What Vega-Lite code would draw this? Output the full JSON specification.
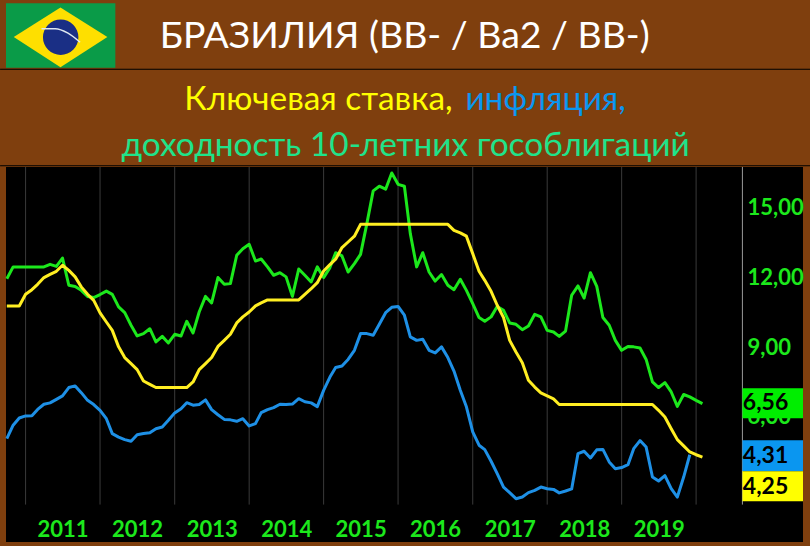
{"$schema":"https://vega.github.io/schema/vega-lite/v6.json","width":797,"height":375,"autosize":{"type":"none"},"padding":{"left":6,"top":167,"right":7,"bottom":4},"background":"#7f3f0e","view":{"fill":"#000000","stroke":null},
"config":{"font":"Lato"},
"datasets":{"series":[
{"d":"2010-10-01","r":10.77,"i":5.06,"y":11.94},{"d":"2010-11-01","r":10.77,"i":5.64,"y":12.45},{"d":"2010-12-01","r":10.77,"i":5.95,"y":12.45},{"d":"2011-01-01","r":11.27,"i":6.04,"y":12.45},{"d":"2011-02-01","r":11.47,"i":6.05,"y":12.45},{"d":"2011-03-01","r":11.70,"i":6.32,"y":12.45},{"d":"2011-04-01","r":11.99,"i":6.54,"y":12.45},{"d":"2011-05-01","r":12.13,"i":6.60,"y":12.56},{"d":"2011-06-01","r":12.26,"i":6.75,"y":12.47},{"d":"2011-07-01","r":12.52,"i":6.90,"y":12.83},{"d":"2011-08-01","r":12.30,"i":7.26,"y":11.66},{"d":"2011-09-01","r":12.02,"i":7.33,"y":11.61},
{"d":"2011-10-01","r":11.59,"i":7.04,"y":11.44},{"d":"2011-11-01","r":11.27,"i":6.71,"y":11.18},{"d":"2011-12-01","r":11.01,"i":6.53,"y":11.13},{"d":"2012-01-01","r":10.47,"i":6.28,"y":11.26},{"d":"2012-02-01","r":10.08,"i":5.92,"y":11.41},{"d":"2012-03-01","r":9.72,"i":5.28,"y":11.27},{"d":"2012-04-01","r":9.01,"i":5.13,"y":10.73},{"d":"2012-05-01","r":8.55,"i":5.02,"y":10.48},{"d":"2012-06-01","r":8.29,"i":4.95,"y":9.94},{"d":"2012-07-01","r":8.03,"i":5.23,"y":9.48},{"d":"2012-08-01","r":7.54,"i":5.28,"y":9.58},{"d":"2012-09-01","r":7.40,"i":5.32,"y":9.79},
{"d":"2012-10-01","r":7.26,"i":5.49,"y":9.22},{"d":"2012-11-01","r":7.26,"i":5.56,"y":9.46},{"d":"2012-12-01","r":7.26,"i":5.85,"y":9.18},{"d":"2013-01-01","r":7.26,"i":6.17,"y":9.55},{"d":"2013-02-01","r":7.26,"i":6.35,"y":9.48},{"d":"2013-03-01","r":7.26,"i":6.61,"y":10.11},{"d":"2013-04-01","r":7.50,"i":6.50,"y":9.61},{"d":"2013-05-01","r":8.03,"i":6.53,"y":10.51},{"d":"2013-06-01","r":8.29,"i":6.73,"y":11.18},{"d":"2013-07-01","r":8.55,"i":6.31,"y":10.90},{"d":"2013-08-01","r":9.03,"i":6.09,"y":11.99},{"d":"2013-09-01","r":9.29,"i":5.89,"y":11.70},
{"d":"2013-10-01","r":9.55,"i":5.87,"y":11.73},{"d":"2013-11-01","r":10.04,"i":5.81,"y":12.95},{"d":"2013-12-01","r":10.30,"i":5.92,"y":13.23},{"d":"2014-01-01","r":10.51,"i":5.61,"y":13.42},{"d":"2014-02-01","r":10.77,"i":5.71,"y":12.70},{"d":"2014-03-01","r":10.90,"i":6.18,"y":12.79},{"d":"2014-04-01","r":11.03,"i":6.31,"y":12.45},{"d":"2014-05-01","r":11.03,"i":6.40,"y":12.09},{"d":"2014-06-01","r":11.03,"i":6.54,"y":12.20},{"d":"2014-07-01","r":11.03,"i":6.53,"y":12.02},{"d":"2014-08-01","r":11.03,"i":6.55,"y":11.18},{"d":"2014-09-01","r":11.03,"i":6.78,"y":12.36},
{"d":"2014-10-01","r":11.27,"i":6.65,"y":12.09},{"d":"2014-11-01","r":11.51,"i":6.60,"y":11.80},{"d":"2014-12-01","r":11.77,"i":6.44,"y":12.45},{"d":"2015-01-01","r":12.27,"i":7.14,"y":11.99},{"d":"2015-02-01","r":12.55,"i":7.71,"y":12.42},{"d":"2015-03-01","r":12.78,"i":8.12,"y":13.06},{"d":"2015-04-01","r":13.28,"i":8.19,"y":12.92},{"d":"2015-05-01","r":13.52,"i":8.47,"y":12.23},{"d":"2015-06-01","r":13.77,"i":8.86,"y":12.59},{"d":"2015-07-01","r":14.28,"i":9.58,"y":12.99},{"d":"2015-08-01","r":14.28,"i":9.58,"y":14.31},{"d":"2015-09-01","r":14.28,"i":9.51,"y":15.72},
{"d":"2015-10-01","r":14.28,"i":9.98,"y":15.92},{"d":"2015-11-01","r":14.28,"i":10.48,"y":15.79},{"d":"2015-12-01","r":14.28,"i":10.71,"y":16.49},{"d":"2016-01-01","r":14.28,"i":10.75,"y":16.00},{"d":"2016-02-01","r":14.28,"i":10.37,"y":15.92},{"d":"2016-03-01","r":14.28,"i":9.44,"y":13.88},{"d":"2016-04-01","r":14.28,"i":9.29,"y":12.45},{"d":"2016-05-01","r":14.28,"i":9.34,"y":13.06},{"d":"2016-06-01","r":14.28,"i":8.86,"y":12.23},{"d":"2016-07-01","r":14.28,"i":8.75,"y":11.84},{"d":"2016-08-01","r":14.28,"i":9.01,"y":12.12},{"d":"2016-09-01","r":14.28,"i":8.55,"y":11.66},
{"d":"2016-10-01","r":14.02,"i":7.97,"y":11.47},{"d":"2016-11-01","r":13.91,"i":7.14,"y":11.92},{"d":"2016-12-01","r":13.77,"i":6.43,"y":11.44},{"d":"2017-01-01","r":13.02,"i":5.35,"y":10.87},{"d":"2017-02-01","r":12.26,"i":4.78,"y":10.27},{"d":"2017-03-01","r":11.87,"i":4.59,"y":10.11},{"d":"2017-04-01","r":11.40,"i":4.09,"y":10.30},{"d":"2017-05-01","r":10.80,"i":3.56,"y":10.75},{"d":"2017-06-01","r":10.27,"i":2.98,"y":10.58},{"d":"2017-07-01","r":9.29,"i":2.74,"y":10.04},{"d":"2017-08-01","r":8.79,"i":2.48,"y":9.98},{"d":"2017-09-01","r":8.33,"i":2.55,"y":9.75},
{"d":"2017-10-01","r":7.57,"i":2.74,"y":9.91},{"d":"2017-11-01","r":7.28,"i":2.84,"y":10.41},{"d":"2017-12-01","r":7.03,"i":2.98,"y":10.30},{"d":"2018-01-01","r":6.90,"i":2.91,"y":9.72},{"d":"2018-02-01","r":6.77,"i":2.88,"y":9.65},{"d":"2018-03-01","r":6.53,"i":2.73,"y":9.46},{"d":"2018-04-01","r":6.53,"i":2.81,"y":9.69},{"d":"2018-05-01","r":6.53,"i":2.90,"y":11.23},{"d":"2018-06-01","r":6.53,"i":4.42,"y":11.63},{"d":"2018-07-01","r":6.53,"i":4.52,"y":11.11},{"d":"2018-08-01","r":6.53,"i":4.23,"y":12.20},{"d":"2018-09-01","r":6.53,"i":4.58,"y":11.61},
{"d":"2018-10-01","r":6.53,"i":4.60,"y":10.27},{"d":"2018-11-01","r":6.53,"i":4.06,"y":9.94},{"d":"2018-12-01","r":6.53,"i":3.77,"y":9.29},{"d":"2019-01-01","r":6.53,"i":3.82,"y":8.86},{"d":"2019-02-01","r":6.53,"i":3.94,"y":9.03},{"d":"2019-03-01","r":6.53,"i":4.63,"y":9.01},{"d":"2019-04-01","r":6.53,"i":4.98,"y":8.96},{"d":"2019-05-01","r":6.53,"i":4.70,"y":8.47},{"d":"2019-06-01","r":6.53,"i":3.41,"y":7.50},{"d":"2019-07-01","r":6.28,"i":3.24,"y":7.26},{"d":"2019-08-01","r":5.99,"i":3.47,"y":7.47},{"d":"2019-09-01","r":5.49,"i":2.91,"y":7.07},
{"d":"2019-10-01","r":5.02,"i":2.55,"y":6.45},{"d":"2019-11-01","r":4.75,"i":3.41,"y":6.96},{"d":"2019-12-01","r":4.49,"i":4.37,"y":6.86},{"d":"2020-01-01","r":4.37,"y":6.71},{"d":"2020-02-01","r":4.27,"y":6.57}
],
"boxes":[{"s":"yield","t":"6,56","x0":"2020-08-15","x1":"2021-06-08","tx":"2020-08-17","y0":7.23,"y1":5.94,"ty":6.58},{"s":"cpi","t":"4,31","x0":"2020-08-15","x1":"2021-06-08","tx":"2020-08-17","y0":4.99,"y1":3.66,"ty":4.30},{"s":"rate","t":"4,25","x0":"2020-08-15","x1":"2021-06-08","tx":"2020-08-17","y0":3.66,"y1":2.37,"ty":2.97}],
"vgrid":[{"x":"2011-01-01"},{"x":"2012-01-01"},{"x":"2013-01-01"},{"x":"2014-01-01"},{"x":"2015-01-01"},{"x":"2016-01-01"},{"x":"2017-01-01"},{"x":"2018-01-01"},{"x":"2019-01-01"},{"x":"2020-01-01"}],
"hgrid":[{"v":3},{"v":6},{"v":9},{"v":12},{"v":15},{"v":2.226}],
"head":[{"t":"БРАЗИЛИЯ (BB- / Ba2 / BB-)","s":"white","x":"2012-10-20","y":21.85,"k":"big"},{"t":"Ключевая ставка,","s":"rate","x":"2013-02-17","y":19.18,"k":"small"},{"t":"инфляция,","s":"cpi","x":"2016-11-26","y":19.18,"k":"small"},{"t":"доходность 10-летних гособлигаций","s":"sub","x":"2012-04-15","y":17.21,"k":"small"}]},
"layer":[
{"data":{"name":"vgrid"},"mark":{"type":"rule","color":"#3a3a3a","strokeWidth":1},"encoding":{"x":{"field":"x","type":"temporal","scale":{"domain":["2010-09-27","2021-06-08"]},"axis":{"orient":"bottom","offset":-37.4,"title":null,"grid":false,"domain":false,"ticks":false,"tickCount":"year","labelOffset":37,"labelPadding":25,"labelBaseline":"middle","labelFontSize":22,"labelFontWeight":"bold","labelFont":"Lato","labelColor":"#1ce81c","labelFlush":false,"labelBound":false,"labelOverlap":false,"labelExpr":"year(datum.value) < 2020 ? timeFormat(datum.value,'%Y') : ''"}},"y":{"datum":16.746,"type":"quantitative","scale":{"domain":[0.617,16.746],"nice":false,"zero":false},"axis":{"orient":"right","offset":-60,"title":null,"grid":false,"domain":false,"ticks":false,"values":[3,6,9,12,15],"labelPadding":4,"labelFontSize":22,"labelFontWeight":"bold","labelFont":"Lato","labelColor":"#1ce81c","labelOverlap":false,"labelBound":false,"labelExpr":"replace(format(datum.value,'.2f'),'.',',')"}},"y2":{"datum":2.226}}},
{"data":{"name":"hgrid"},"mark":{"type":"rule","color":"#3a3a3a","strokeWidth":1},"encoding":{"y":{"field":"v","type":"quantitative"},"x":{"datum":"2010-09-27","type":"temporal"},"x2":{"datum":"2020-08-15"}}},
{"data":{"values":[{"a":"2020-08-15"}]},"mark":{"type":"rule","color":"#999999","strokeWidth":1},"encoding":{"x":{"field":"a","type":"temporal"},"y":{"datum":16.746,"type":"quantitative"},"y2":{"datum":2.226}}},
{"data":{"name":"series"},"mark":{"type":"line","color":"#1ce81c","strokeWidth":3,"strokeJoin":"round"},"encoding":{"x":{"field":"d","type":"temporal"},"y":{"field":"y","type":"quantitative"}}},
{"data":{"name":"series"},"transform":[{"filter":"isValid(datum.i)"}],"mark":{"type":"line","color":"#1e90e6","strokeWidth":3,"strokeJoin":"round"},"encoding":{"x":{"field":"d","type":"temporal"},"y":{"field":"i","type":"quantitative"}}},
{"data":{"name":"series"},"mark":{"type":"line","color":"#ffee22","strokeWidth":3,"strokeJoin":"round"},"encoding":{"x":{"field":"d","type":"temporal"},"y":{"field":"r","type":"quantitative"}}},
{"data":{"name":"boxes"},"mark":{"type":"rect"},"encoding":{"x":{"field":"x0","type":"temporal"},"x2":{"field":"x1"},"y":{"field":"y0","type":"quantitative"},"y2":{"field":"y1"},"color":{"field":"s","type":"nominal","legend":null,"scale":{"domain":["yield","cpi","rate","white","sub"],"range":["#00ee00","#0a96f0","#ffff00","#ffffff","#1fe38a"]}}}},
{"data":{"name":"boxes"},"mark":{"type":"text","align":"left","baseline":"middle","font":"Lato","fontSize":23,"fontWeight":"bold","color":"#000000"},"encoding":{"x":{"field":"tx","type":"temporal"},"y":{"field":"ty","type":"quantitative"},"text":{"field":"t"}}},
{"data":{"values":[{"a":"2010-08-29","b":"2021-07-14","v":20.95},{"a":"2010-08-29","b":"2021-07-14","v":16.80}]},"mark":{"type":"rule","color":"#000000","strokeWidth":1},"encoding":{"x":{"field":"a","type":"temporal"},"x2":{"field":"b"},"y":{"field":"v","type":"quantitative"}}},
{"data":{"values":[{"a":"2010-09-27","b":"2012-03-16","t":23.79,"u":21.01}]},"mark":{"type":"rect","color":"#0a9b48"},"encoding":{"x":{"field":"a","type":"temporal"},"x2":{"field":"b"},"y":{"field":"t","type":"quantitative"},"y2":{"field":"u"}}},
{"data":{"values":[{"a":"2010-11-04","t":22.34,"u":22.34},{"a":"2011-06-21","t":23.61,"u":21.04},{"a":"2012-02-06","t":22.34,"u":22.34}]},"mark":{"type":"area","color":"#fedf00"},"encoding":{"x":{"field":"a","type":"temporal"},"y":{"field":"t","type":"quantitative"},"y2":{"field":"u"}}},
{"data":{"values":[{"a":"2011-06-22","v":22.33}]},"mark":{"type":"point","filled":true,"opacity":1,"color":"#1a2f85","size":1257},"encoding":{"x":{"field":"a","type":"temporal"},"y":{"field":"v","type":"quantitative"}}},
{"data":{"values":[{"a":"2011-03-20","v":22.69},{"a":"2011-05-26","v":22.69},{"a":"2011-07-28","v":22.50},{"a":"2011-09-25","v":22.11}]},"mark":{"type":"line","color":"#dfe8f0","strokeWidth":1.5,"interpolate":"monotone"},"encoding":{"x":{"field":"a","type":"temporal"},"y":{"field":"v","type":"quantitative"}}},
{"data":{"name":"head"},"transform":[{"filter":"datum.k=='big'"}],"mark":{"type":"text","align":"left","baseline":"alphabetic","font":"Lato","fontSize":37.4},"encoding":{"x":{"field":"x","type":"temporal"},"y":{"field":"y","type":"quantitative"},"text":{"field":"t"},"color":{"field":"s","type":"nominal","legend":null}}},
{"data":{"name":"head"},"transform":[{"filter":"datum.k=='small'"}],"mark":{"type":"text","align":"left","baseline":"alphabetic","font":"Lato","fontSize":33.4},"encoding":{"x":{"field":"x","type":"temporal"},"y":{"field":"y","type":"quantitative"},"text":{"field":"t"},"color":{"field":"s","type":"nominal","legend":null}}}
]}
